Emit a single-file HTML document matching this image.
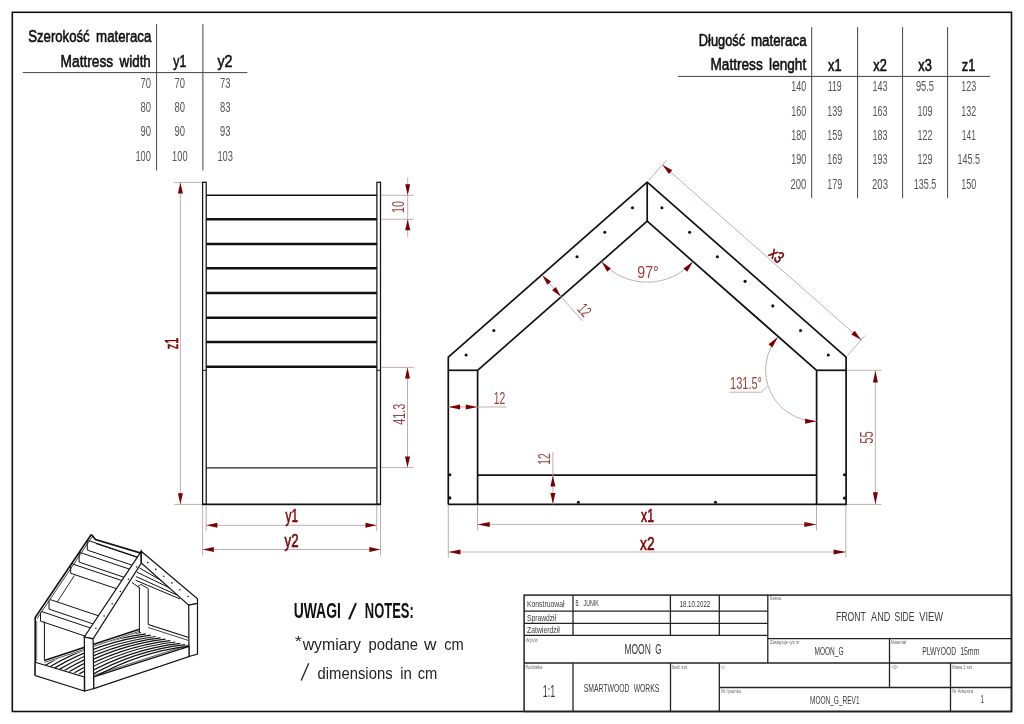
<!DOCTYPE html>
<html><head><meta charset="utf-8"><style>
html,body{margin:0;padding:0;background:#fff;}
svg{display:block;font-family:"Liberation Sans", sans-serif;will-change:transform;}
</style></head><body>
<svg width="1024" height="724" viewBox="0 0 1024 724">
<rect width="1024" height="724" fill="#fff"/>
<rect x="12.3" y="12.3" width="999.2" height="699.2" fill="none" stroke="#111" stroke-width="1.6"/>
<line x1="156.6" y1="24.2" x2="156.6" y2="170.5" stroke="#444" stroke-width="1"/>
<line x1="202.9" y1="24.2" x2="202.9" y2="170.5" stroke="#444" stroke-width="1"/>
<line x1="22.8" y1="72.6" x2="247.3" y2="72.6" stroke="#444" stroke-width="1"/>
<text x="28.21" y="42.3" font-size="16.86" font-weight="normal" fill="#111" stroke="#111" stroke-width="0.6" text-anchor="start" textLength="61.48" lengthAdjust="spacingAndGlyphs">Szerokość</text>
<text x="96.11" y="42.3" font-size="16.86" font-weight="normal" fill="#111" stroke="#111" stroke-width="0.6" text-anchor="start" textLength="55.18" lengthAdjust="spacingAndGlyphs">materaca</text>
<text x="60.61" y="66.9" font-size="16.86" font-weight="normal" fill="#111" stroke="#111" stroke-width="0.6" text-anchor="start" textLength="52.58" lengthAdjust="spacingAndGlyphs">Mattress</text>
<text x="119.61" y="66.9" font-size="16.86" font-weight="normal" fill="#111" stroke="#111" stroke-width="0.6" text-anchor="start" textLength="31.18" lengthAdjust="spacingAndGlyphs">width</text>
<text x="179.8" y="66.9" font-size="16.86" font-weight="normal" fill="#111" stroke="#111" stroke-width="0.6" text-anchor="middle" textLength="13" lengthAdjust="spacingAndGlyphs">y1</text>
<text x="225" y="66.9" font-size="16.86" font-weight="normal" fill="#111" stroke="#111" stroke-width="0.6" text-anchor="middle" textLength="15" lengthAdjust="spacingAndGlyphs">y2</text>
<text x="150.9" y="88" font-size="13.71" font-weight="normal" fill="#555" text-anchor="end" textLength="10.5" lengthAdjust="spacingAndGlyphs">70</text>
<text x="179.8" y="88" font-size="13.71" font-weight="normal" fill="#555" text-anchor="middle" textLength="10.5" lengthAdjust="spacingAndGlyphs">70</text>
<text x="225.2" y="88" font-size="13.71" font-weight="normal" fill="#555" text-anchor="middle" textLength="10.5" lengthAdjust="spacingAndGlyphs">73</text>
<text x="150.9" y="112.1" font-size="13.71" font-weight="normal" fill="#555" text-anchor="end" textLength="10.5" lengthAdjust="spacingAndGlyphs">80</text>
<text x="179.8" y="112.1" font-size="13.71" font-weight="normal" fill="#555" text-anchor="middle" textLength="10.5" lengthAdjust="spacingAndGlyphs">80</text>
<text x="225.2" y="112.1" font-size="13.71" font-weight="normal" fill="#555" text-anchor="middle" textLength="10.5" lengthAdjust="spacingAndGlyphs">83</text>
<text x="150.9" y="136.3" font-size="13.71" font-weight="normal" fill="#555" text-anchor="end" textLength="10.5" lengthAdjust="spacingAndGlyphs">90</text>
<text x="179.8" y="136.3" font-size="13.71" font-weight="normal" fill="#555" text-anchor="middle" textLength="10.5" lengthAdjust="spacingAndGlyphs">90</text>
<text x="225.2" y="136.3" font-size="13.71" font-weight="normal" fill="#555" text-anchor="middle" textLength="10.5" lengthAdjust="spacingAndGlyphs">93</text>
<text x="150.9" y="160.8" font-size="13.71" font-weight="normal" fill="#555" text-anchor="end" textLength="15.5" lengthAdjust="spacingAndGlyphs">100</text>
<text x="179.8" y="160.8" font-size="13.71" font-weight="normal" fill="#555" text-anchor="middle" textLength="15.5" lengthAdjust="spacingAndGlyphs">100</text>
<text x="225.2" y="160.8" font-size="13.71" font-weight="normal" fill="#555" text-anchor="middle" textLength="15.5" lengthAdjust="spacingAndGlyphs">103</text>
<line x1="811.7" y1="27.1" x2="811.7" y2="198" stroke="#444" stroke-width="1"/>
<line x1="857.6" y1="27.1" x2="857.6" y2="198" stroke="#444" stroke-width="1"/>
<line x1="902.6" y1="27.1" x2="902.6" y2="198" stroke="#444" stroke-width="1"/>
<line x1="947.6" y1="27.1" x2="947.6" y2="198" stroke="#444" stroke-width="1"/>
<line x1="678" y1="76.4" x2="990" y2="76.4" stroke="#444" stroke-width="1"/>
<text x="698.81" y="46.2" font-size="16.86" font-weight="normal" fill="#111" stroke="#111" stroke-width="0.6" text-anchor="start" textLength="46.28" lengthAdjust="spacingAndGlyphs">Długość</text>
<text x="750.91" y="46.2" font-size="16.86" font-weight="normal" fill="#111" stroke="#111" stroke-width="0.6" text-anchor="start" textLength="55.68" lengthAdjust="spacingAndGlyphs">materaca</text>
<text x="710.51" y="70.3" font-size="16.86" font-weight="normal" fill="#111" stroke="#111" stroke-width="0.6" text-anchor="start" textLength="52.18" lengthAdjust="spacingAndGlyphs">Mattress</text>
<text x="769.11" y="70.3" font-size="16.86" font-weight="normal" fill="#111" stroke="#111" stroke-width="0.6" text-anchor="start" textLength="37.08" lengthAdjust="spacingAndGlyphs">lenght</text>
<text x="834.8" y="70.6" font-size="16.86" font-weight="normal" fill="#111" stroke="#111" stroke-width="0.6" text-anchor="middle" textLength="13.5" lengthAdjust="spacingAndGlyphs">x1</text>
<text x="880" y="70.6" font-size="16.86" font-weight="normal" fill="#111" stroke="#111" stroke-width="0.6" text-anchor="middle" textLength="13.5" lengthAdjust="spacingAndGlyphs">x2</text>
<text x="925" y="70.6" font-size="16.86" font-weight="normal" fill="#111" stroke="#111" stroke-width="0.6" text-anchor="middle" textLength="13.5" lengthAdjust="spacingAndGlyphs">x3</text>
<text x="968.6" y="70.6" font-size="16.86" font-weight="normal" fill="#111" stroke="#111" stroke-width="0.6" text-anchor="middle" textLength="13.5" lengthAdjust="spacingAndGlyphs">z1</text>
<text x="806.3" y="91.3" font-size="13.71" font-weight="normal" fill="#555" text-anchor="end" textLength="15" lengthAdjust="spacingAndGlyphs">140</text>
<text x="834.7" y="91.3" font-size="13.71" font-weight="normal" fill="#555" text-anchor="middle" textLength="14.1" lengthAdjust="spacingAndGlyphs">119</text>
<text x="880" y="91.3" font-size="13.71" font-weight="normal" fill="#555" text-anchor="middle" textLength="15" lengthAdjust="spacingAndGlyphs">143</text>
<text x="925" y="91.3" font-size="13.71" font-weight="normal" fill="#555" text-anchor="middle" textLength="18.1" lengthAdjust="spacingAndGlyphs">95.5</text>
<text x="968.8" y="91.3" font-size="13.71" font-weight="normal" fill="#555" text-anchor="middle" textLength="15" lengthAdjust="spacingAndGlyphs">123</text>
<text x="806.3" y="115.6" font-size="13.71" font-weight="normal" fill="#555" text-anchor="end" textLength="15" lengthAdjust="spacingAndGlyphs">160</text>
<text x="834.7" y="115.6" font-size="13.71" font-weight="normal" fill="#555" text-anchor="middle" textLength="15" lengthAdjust="spacingAndGlyphs">139</text>
<text x="880" y="115.6" font-size="13.71" font-weight="normal" fill="#555" text-anchor="middle" textLength="15" lengthAdjust="spacingAndGlyphs">163</text>
<text x="925" y="115.6" font-size="13.71" font-weight="normal" fill="#555" text-anchor="middle" textLength="15" lengthAdjust="spacingAndGlyphs">109</text>
<text x="968.8" y="115.6" font-size="13.71" font-weight="normal" fill="#555" text-anchor="middle" textLength="15" lengthAdjust="spacingAndGlyphs">132</text>
<text x="806.3" y="140" font-size="13.71" font-weight="normal" fill="#555" text-anchor="end" textLength="15" lengthAdjust="spacingAndGlyphs">180</text>
<text x="834.7" y="140" font-size="13.71" font-weight="normal" fill="#555" text-anchor="middle" textLength="15" lengthAdjust="spacingAndGlyphs">159</text>
<text x="880" y="140" font-size="13.71" font-weight="normal" fill="#555" text-anchor="middle" textLength="15" lengthAdjust="spacingAndGlyphs">183</text>
<text x="925" y="140" font-size="13.71" font-weight="normal" fill="#555" text-anchor="middle" textLength="15" lengthAdjust="spacingAndGlyphs">122</text>
<text x="968.8" y="140" font-size="13.71" font-weight="normal" fill="#555" text-anchor="middle" textLength="14.1" lengthAdjust="spacingAndGlyphs">141</text>
<text x="806.3" y="164.3" font-size="13.71" font-weight="normal" fill="#555" text-anchor="end" textLength="15" lengthAdjust="spacingAndGlyphs">190</text>
<text x="834.7" y="164.3" font-size="13.71" font-weight="normal" fill="#555" text-anchor="middle" textLength="15" lengthAdjust="spacingAndGlyphs">169</text>
<text x="880" y="164.3" font-size="13.71" font-weight="normal" fill="#555" text-anchor="middle" textLength="15" lengthAdjust="spacingAndGlyphs">193</text>
<text x="925" y="164.3" font-size="13.71" font-weight="normal" fill="#555" text-anchor="middle" textLength="15" lengthAdjust="spacingAndGlyphs">129</text>
<text x="968.8" y="164.3" font-size="13.71" font-weight="normal" fill="#555" text-anchor="middle" textLength="22.5" lengthAdjust="spacingAndGlyphs">145.5</text>
<text x="806.3" y="188.6" font-size="13.71" font-weight="normal" fill="#555" text-anchor="end" textLength="15.9" lengthAdjust="spacingAndGlyphs">200</text>
<text x="834.7" y="188.6" font-size="13.71" font-weight="normal" fill="#555" text-anchor="middle" textLength="15" lengthAdjust="spacingAndGlyphs">179</text>
<text x="880" y="188.6" font-size="13.71" font-weight="normal" fill="#555" text-anchor="middle" textLength="15.9" lengthAdjust="spacingAndGlyphs">203</text>
<text x="925" y="188.6" font-size="13.71" font-weight="normal" fill="#555" text-anchor="middle" textLength="22.5" lengthAdjust="spacingAndGlyphs">135.5</text>
<text x="968.8" y="188.6" font-size="13.71" font-weight="normal" fill="#555" text-anchor="middle" textLength="15" lengthAdjust="spacingAndGlyphs">150</text>
<rect x="202.6" y="182.3" width="3.6" height="322.1" fill="none" stroke="#111" stroke-width="1.25"/>
<rect x="376.9" y="182.3" width="3.6" height="322.1" fill="none" stroke="#111" stroke-width="1.25"/>
<line x1="202.6" y1="370.3" x2="206.2" y2="370.3" stroke="#111" stroke-width="1"/>
<line x1="376.9" y1="370.3" x2="380.5" y2="370.3" stroke="#111" stroke-width="1"/>
<line x1="206.2" y1="195.3" x2="376.9" y2="195.3" stroke="#111" stroke-width="1.5"/>
<line x1="206.2" y1="219.3" x2="376.9" y2="219.3" stroke="#111" stroke-width="2.4"/>
<line x1="206.2" y1="244" x2="376.9" y2="244" stroke="#111" stroke-width="2.4"/>
<line x1="206.2" y1="268.3" x2="376.9" y2="268.3" stroke="#111" stroke-width="2.4"/>
<line x1="206.2" y1="293" x2="376.9" y2="293" stroke="#111" stroke-width="2.4"/>
<line x1="206.2" y1="317.8" x2="376.9" y2="317.8" stroke="#111" stroke-width="2.4"/>
<line x1="206.2" y1="342" x2="376.9" y2="342" stroke="#111" stroke-width="2.4"/>
<line x1="206.2" y1="366.7" x2="376.9" y2="366.7" stroke="#111" stroke-width="2.4"/>
<line x1="206.2" y1="467.9" x2="376.9" y2="467.9" stroke="#222" stroke-width="1.3"/>
<line x1="202.6" y1="504.4" x2="380.5" y2="504.4" stroke="#111" stroke-width="1.6"/>
<line x1="174" y1="182.4" x2="202" y2="182.4" stroke="#bca4a8" stroke-width="0.9"/>
<line x1="174" y1="504.4" x2="202" y2="504.4" stroke="#bca4a8" stroke-width="0.9"/>
<line x1="180.4" y1="182.4" x2="180.4" y2="504.4" stroke="#bca4a8" stroke-width="0.9"/>
<polygon points="180.4,182.6 182.9,193.6 177.9,193.6" fill="#7a0000"/>
<polygon points="180.4,504.2 177.9,493.2 182.9,493.2" fill="#7a0000"/>
<text x="0" y="6.1" transform="translate(171.6 343.5) rotate(-90)" font-size="17.43" font-weight="normal" fill="#7d0000" stroke="#7d0000" stroke-width="0.55" text-anchor="middle" textLength="11.5" lengthAdjust="spacingAndGlyphs">z1</text>
<line x1="381" y1="195.3" x2="413.8" y2="195.3" stroke="#bca4a8" stroke-width="0.9"/>
<line x1="381" y1="219.3" x2="413.8" y2="219.3" stroke="#bca4a8" stroke-width="0.9"/>
<line x1="407.7" y1="177.4" x2="407.7" y2="236.9" stroke="#bca4a8" stroke-width="0.9"/>
<polygon points="407.7,195.3 405.2,184.3 410.2,184.3" fill="#7a0000"/>
<polygon points="407.7,219.3 410.2,230.3 405.2,230.3" fill="#7a0000"/>
<text x="0" y="5.6" transform="translate(398.8 207) rotate(-90)" font-size="16" font-weight="normal" fill="#9a4242" text-anchor="middle" textLength="12" lengthAdjust="spacingAndGlyphs">10</text>
<line x1="381" y1="367.4" x2="413.7" y2="367.4" stroke="#bca4a8" stroke-width="0.9"/>
<line x1="381" y1="467.6" x2="413.7" y2="467.6" stroke="#bca4a8" stroke-width="0.9"/>
<line x1="407.5" y1="367.4" x2="407.5" y2="467.6" stroke="#bca4a8" stroke-width="0.9"/>
<polygon points="407.5,367.6 410,378.6 405,378.6" fill="#7a0000"/>
<polygon points="407.5,467.4 405,456.4 410,456.4" fill="#7a0000"/>
<text x="0" y="5.8" transform="translate(398.9 414.2) rotate(-90)" font-size="16.57" font-weight="normal" fill="#9a4242" text-anchor="middle" textLength="21" lengthAdjust="spacingAndGlyphs">41.3</text>
<line x1="206.2" y1="505" x2="206.2" y2="531" stroke="#bca4a8" stroke-width="0.9"/>
<line x1="376.7" y1="505" x2="376.7" y2="531" stroke="#bca4a8" stroke-width="0.9"/>
<line x1="206.2" y1="525.3" x2="376.7" y2="525.3" stroke="#bca4a8" stroke-width="0.9"/>
<polygon points="206.4,525.3 217.4,522.8 217.4,527.8" fill="#7a0000"/>
<polygon points="376.5,525.3 365.5,527.8 365.5,522.8" fill="#7a0000"/>
<text x="291.8" y="522.3" font-size="17.5" font-weight="normal" fill="#7d0000" stroke="#7d0000" stroke-width="0.55" text-anchor="middle" textLength="12.5" lengthAdjust="spacingAndGlyphs">y1</text>
<line x1="202.6" y1="505" x2="202.6" y2="555.5" stroke="#bca4a8" stroke-width="0.9"/>
<line x1="380.5" y1="505" x2="380.5" y2="555.5" stroke="#bca4a8" stroke-width="0.9"/>
<line x1="202.6" y1="549.5" x2="380.5" y2="549.5" stroke="#bca4a8" stroke-width="0.9"/>
<polygon points="202.8,549.5 213.8,547 213.8,552" fill="#7a0000"/>
<polygon points="380.3,549.5 369.3,552 369.3,547" fill="#7a0000"/>
<text x="291.5" y="546.6" font-size="17.5" font-weight="normal" fill="#7d0000" stroke="#7d0000" stroke-width="0.55" text-anchor="middle" textLength="14" lengthAdjust="spacingAndGlyphs">y2</text>
<polyline points="448.3,504.4 448.3,357.2 647.2,182.1 846.1,357.2 846.1,504.4 448.3,504.4" fill="none" stroke="#111" stroke-width="1.7" stroke-linejoin="round"/>
<polyline points="477.6,504.4 477.6,370.3 647.2,221.2 816.6,370.3 816.6,504.4" fill="none" stroke="#111" stroke-width="1.7" stroke-linejoin="round"/>
<line x1="448.3" y1="370.3" x2="477.6" y2="370.3" stroke="#111" stroke-width="1.7"/>
<line x1="816.6" y1="370.3" x2="846.1" y2="370.3" stroke="#111" stroke-width="1.7"/>
<line x1="647.2" y1="182.1" x2="647.2" y2="221.2" stroke="#111" stroke-width="1.7"/>
<line x1="477.6" y1="475.2" x2="816.6" y2="475.2" stroke="#111" stroke-width="1.7"/>
<circle cx="661.9" cy="207.7" r="1.55" fill="#111"/>
<circle cx="632.5" cy="207.7" r="1.55" fill="#111"/>
<circle cx="689.63" cy="232.25" r="1.55" fill="#111"/>
<circle cx="604.77" cy="232.25" r="1.55" fill="#111"/>
<circle cx="717.36" cy="256.8" r="1.55" fill="#111"/>
<circle cx="577.04" cy="256.8" r="1.55" fill="#111"/>
<circle cx="745.09" cy="281.35" r="1.55" fill="#111"/>
<circle cx="772.82" cy="305.9" r="1.55" fill="#111"/>
<circle cx="800.55" cy="330.45" r="1.55" fill="#111"/>
<circle cx="493.85" cy="330.45" r="1.55" fill="#111"/>
<circle cx="828.28" cy="355" r="1.55" fill="#111"/>
<circle cx="466.12" cy="355" r="1.55" fill="#111"/>
<circle cx="449.9" cy="474.7" r="1.55" fill="#111"/>
<circle cx="449.9" cy="497.9" r="1.55" fill="#111"/>
<circle cx="844.5" cy="474.8" r="1.55" fill="#111"/>
<circle cx="844.5" cy="498.1" r="1.55" fill="#111"/>
<circle cx="578.4" cy="502.3" r="1.55" fill="#111"/>
<circle cx="715.5" cy="502.3" r="1.55" fill="#111"/>
<line x1="448.3" y1="407" x2="506.4" y2="407" stroke="#bca4a8" stroke-width="0.9"/>
<polygon points="448.6,407 460.1,404.5 460.1,409.5" fill="#7a0000"/>
<polygon points="477.3,407 465.8,409.5 465.8,404.5" fill="#7a0000"/>
<text x="499.5" y="403.8" font-size="16.6" font-weight="normal" fill="#9a4242" text-anchor="middle" textLength="11.5" lengthAdjust="spacingAndGlyphs">12</text>
<line x1="552.9" y1="452.2" x2="552.9" y2="504.4" stroke="#bca4a8" stroke-width="0.9"/>
<polygon points="552.9,475.6 555.4,486.6 550.4,486.6" fill="#7a0000"/>
<polygon points="552.9,504.1 550.4,493.1 555.4,493.1" fill="#7a0000"/>
<text x="0" y="5.75" transform="translate(544 459.1) rotate(-90)" font-size="16.43" font-weight="normal" fill="#9a4242" text-anchor="middle" textLength="11.5" lengthAdjust="spacingAndGlyphs">12</text>
<line x1="542.3" y1="275.3" x2="582.56" y2="321.11" stroke="#bca4a8" stroke-width="0.9"/>
<polygon points="542.3,275.3 551.11,281.54 547.35,284.84" fill="#7a0000"/>
<polygon points="560.91,296.48 552.1,290.24 555.86,286.94" fill="#7a0000"/>
<text x="0" y="5.75" transform="translate(584.6 310) rotate(48.7)" font-size="16.43" font-weight="normal" fill="#9a4242" text-anchor="middle" textLength="11.5" lengthAdjust="spacingAndGlyphs">12</text>
<path d="M601.41 261.5 A61 61 0 0 0 692.99 261.5" fill="none" stroke="#bca4a8" stroke-width="0.9"/>
<polygon points="601.41,261.5 610.88,268.48 607.13,271.78" fill="#7a0000"/>
<polygon points="692.99,261.5 687.27,271.78 683.52,268.48" fill="#7a0000"/>
<text x="648" y="278.3" font-size="16.8" font-weight="normal" fill="#9a4242" text-anchor="middle" textLength="21.5" lengthAdjust="spacingAndGlyphs">97°</text>
<line x1="648.52" y1="180.6" x2="666.34" y2="160.32" stroke="#bca4a8" stroke-width="0.9"/>
<line x1="847.42" y1="355.7" x2="865.24" y2="335.42" stroke="#bca4a8" stroke-width="0.9"/>
<line x1="662.38" y1="164.83" x2="861.28" y2="339.93" stroke="#bca4a8" stroke-width="0.9"/>
<polygon points="662.38,164.83 672.29,170.22 668.98,173.97" fill="#7a0000"/>
<polygon points="861.28,339.93 851.37,334.53 854.68,330.78" fill="#7a0000"/>
<text x="0" y="5.75" transform="translate(776.8 255.2) rotate(41.35)" font-size="16.43" font-weight="normal" fill="#7d0000" stroke="#7d0000" stroke-width="0.55" text-anchor="middle" textLength="13.5" lengthAdjust="spacingAndGlyphs">x3</text>
<path d="M777.91 337.08 A51 51 0 0 0 816.6 421.3" fill="none" stroke="#bca4a8" stroke-width="0.9"/>
<polygon points="777.91,337.08 772.31,347.43 768.52,344.17" fill="#7a0000"/>
<polygon points="816.6,421.3 805.1,423.8 805.1,418.8" fill="#7a0000"/>
<polyline points="767.7,386 761.5,392.2 729,392.2" fill="none" stroke="#bca4a8" stroke-width="0.9" stroke-linejoin="round"/>
<text x="746" y="389.1" font-size="16.8" font-weight="normal" fill="#9a4242" text-anchor="middle" textLength="32" lengthAdjust="spacingAndGlyphs">131.5°</text>
<line x1="847" y1="370.3" x2="881.7" y2="370.3" stroke="#bca4a8" stroke-width="0.9"/>
<line x1="847" y1="504.4" x2="881.3" y2="504.4" stroke="#bca4a8" stroke-width="0.9"/>
<line x1="875.4" y1="370.3" x2="875.4" y2="504.4" stroke="#bca4a8" stroke-width="0.9"/>
<polygon points="875.4,370.5 877.9,382.5 872.9,382.5" fill="#7a0000"/>
<polygon points="875.4,504.2 872.9,492.2 877.9,492.2" fill="#7a0000"/>
<text x="0" y="6.15" transform="translate(866.4 437.5) rotate(-90)" font-size="17.57" font-weight="normal" fill="#9a4242" text-anchor="middle" textLength="12.5" lengthAdjust="spacingAndGlyphs">55</text>
<line x1="477.5" y1="505" x2="477.5" y2="530.2" stroke="#bca4a8" stroke-width="0.9"/>
<line x1="816.5" y1="505" x2="816.5" y2="530.2" stroke="#bca4a8" stroke-width="0.9"/>
<line x1="477.5" y1="524.4" x2="816.5" y2="524.4" stroke="#bca4a8" stroke-width="0.9"/>
<polygon points="477.7,524.4 489.7,521.9 489.7,526.9" fill="#7a0000"/>
<polygon points="816.3,524.4 804.3,526.9 804.3,521.9" fill="#7a0000"/>
<text x="647.5" y="521.6" font-size="17.5" font-weight="normal" fill="#7d0000" stroke="#7d0000" stroke-width="0.55" text-anchor="middle" textLength="13" lengthAdjust="spacingAndGlyphs">x1</text>
<line x1="448.3" y1="505" x2="448.3" y2="557.6" stroke="#bca4a8" stroke-width="0.9"/>
<line x1="845.8" y1="505" x2="845.8" y2="557.6" stroke="#bca4a8" stroke-width="0.9"/>
<line x1="448.3" y1="552" x2="845.8" y2="552" stroke="#bca4a8" stroke-width="0.9"/>
<polygon points="448.5,552 460.5,549.5 460.5,554.5" fill="#7a0000"/>
<polygon points="845.6,552 833.6,554.5 833.6,549.5" fill="#7a0000"/>
<text x="647.3" y="549.6" font-size="17.5" font-weight="normal" fill="#7d0000" stroke="#7d0000" stroke-width="0.55" text-anchor="middle" textLength="14.5" lengthAdjust="spacingAndGlyphs">x2</text>
<text x="293.64" y="617.9" font-size="21.8" font-weight="bold" fill="#111" text-anchor="start" textLength="47.23" lengthAdjust="spacingAndGlyphs">UWAGI</text>
<text x="364.84" y="617.9" font-size="21.8" font-weight="bold" fill="#111" text-anchor="start" textLength="48.93" lengthAdjust="spacingAndGlyphs">NOTES:</text>
<line x1="349" y1="619.3" x2="356" y2="603.2" stroke="#111" stroke-width="2"/>
<text x="294.76" y="646.3" font-size="15.5" font-weight="normal" fill="#222" text-anchor="start" textLength="7.18" lengthAdjust="spacingAndGlyphs">*</text>
<text x="302.65" y="649.5" font-size="15.8" font-weight="normal" fill="#222" text-anchor="start" textLength="58.21" lengthAdjust="spacingAndGlyphs">wymiary</text>
<text x="368.55" y="649.5" font-size="15.8" font-weight="normal" fill="#222" text-anchor="start" textLength="49.41" lengthAdjust="spacingAndGlyphs">podane</text>
<text x="423.95" y="649.5" font-size="15.8" font-weight="normal" fill="#222" text-anchor="start" textLength="12.51" lengthAdjust="spacingAndGlyphs">w</text>
<text x="444.15" y="649.5" font-size="15.8" font-weight="normal" fill="#222" text-anchor="start" textLength="19.51" lengthAdjust="spacingAndGlyphs">cm</text>
<line x1="301.2" y1="680.6" x2="308.7" y2="663.2" stroke="#222" stroke-width="1.3"/>
<text x="317.55" y="678.5" font-size="15.8" font-weight="normal" fill="#222" text-anchor="start" textLength="75.01" lengthAdjust="spacingAndGlyphs">dimensions</text>
<text x="400.15" y="678.5" font-size="15.8" font-weight="normal" fill="#222" text-anchor="start" textLength="11.71" lengthAdjust="spacingAndGlyphs">in</text>
<text x="417.75" y="678.5" font-size="15.8" font-weight="normal" fill="#222" text-anchor="start" textLength="19.61" lengthAdjust="spacingAndGlyphs">cm</text>
<rect x="524.1" y="595.1" width="487.4" height="116.4" fill="none" stroke="#222" stroke-width="1.5"/>
<line x1="524.1" y1="611.2" x2="767.8" y2="611.2" stroke="#222" stroke-width="1.3"/>
<line x1="524.1" y1="623.4" x2="767.8" y2="623.4" stroke="#222" stroke-width="1.3"/>
<line x1="524.1" y1="635.4" x2="767.8" y2="635.4" stroke="#222" stroke-width="1.3"/>
<line x1="573" y1="595.1" x2="573" y2="635.4" stroke="#222" stroke-width="1.3"/>
<line x1="670.4" y1="595.1" x2="670.4" y2="635.4" stroke="#222" stroke-width="1.3"/>
<line x1="719.3" y1="595.1" x2="719.3" y2="635.4" stroke="#222" stroke-width="1.3"/>
<line x1="767.8" y1="595.1" x2="767.8" y2="663" stroke="#222" stroke-width="1.3"/>
<line x1="767.8" y1="638.6" x2="1011.5" y2="638.6" stroke="#222" stroke-width="1.3"/>
<line x1="524.1" y1="663" x2="1011.5" y2="663" stroke="#222" stroke-width="1.3"/>
<line x1="889.5" y1="638.6" x2="889.5" y2="687.5" stroke="#222" stroke-width="1.3"/>
<line x1="573" y1="663" x2="573" y2="711.5" stroke="#222" stroke-width="1.3"/>
<line x1="670.5" y1="663" x2="670.5" y2="711.5" stroke="#222" stroke-width="1.3"/>
<line x1="719.3" y1="663" x2="719.3" y2="711.5" stroke="#222" stroke-width="1.3"/>
<line x1="719.3" y1="687.5" x2="1011.5" y2="687.5" stroke="#222" stroke-width="1.3"/>
<line x1="950.5" y1="663" x2="950.5" y2="711.5" stroke="#222" stroke-width="1.3"/>
<text x="527" y="606.5" font-size="9.16" font-weight="normal" fill="#3a3a3a" text-anchor="start" textLength="37.5" lengthAdjust="spacingAndGlyphs">Konstruował</text>
<text x="575.58" y="606.4" font-size="9.16" font-weight="normal" fill="#3a3a3a" text-anchor="start" textLength="4.24" lengthAdjust="spacingAndGlyphs">B.</text>
<text x="583.58" y="606.4" font-size="9.16" font-weight="normal" fill="#3a3a3a" text-anchor="start" textLength="15.34" lengthAdjust="spacingAndGlyphs">JUNIK</text>
<text x="679.58" y="606.5" font-size="9.16" font-weight="normal" fill="#3a3a3a" text-anchor="start" textLength="30.64" lengthAdjust="spacingAndGlyphs">18.10.2022</text>
<text x="527" y="620.5" font-size="9.16" font-weight="normal" fill="#3a3a3a" text-anchor="start" textLength="29" lengthAdjust="spacingAndGlyphs">Sprawdził</text>
<text x="527" y="632.5" font-size="9.16" font-weight="normal" fill="#3a3a3a" text-anchor="start" textLength="32.8" lengthAdjust="spacingAndGlyphs">Zatwierdził</text>
<text x="525.8" y="642" font-size="5.6" font-weight="normal" fill="#666" text-anchor="start" textLength="12" lengthAdjust="spacingAndGlyphs">Wyrób</text>
<text x="525.5" y="668.7" font-size="5.6" font-weight="normal" fill="#666" text-anchor="start" textLength="17" lengthAdjust="spacingAndGlyphs">Podziałka</text>
<text x="671.7" y="668.7" font-size="5.6" font-weight="normal" fill="#666" text-anchor="start" textLength="16.5" lengthAdjust="spacingAndGlyphs">Ilość szt.</text>
<text x="721" y="668.7" font-size="5.6" font-weight="normal" fill="#666" text-anchor="start" textLength="4" lengthAdjust="spacingAndGlyphs">&lt;1&gt;</text>
<text x="721" y="692.7" font-size="5.6" font-weight="normal" fill="#666" text-anchor="start" textLength="20" lengthAdjust="spacingAndGlyphs">Nr rysunku</text>
<text x="769.8" y="600.3" font-size="5.6" font-weight="normal" fill="#666" text-anchor="start" textLength="11.3" lengthAdjust="spacingAndGlyphs">Nazwa</text>
<text x="770.1" y="644.2" font-size="5.6" font-weight="normal" fill="#666" text-anchor="start" textLength="29.3" lengthAdjust="spacingAndGlyphs">Zastępuje rys nr</text>
<text x="891.1" y="644.2" font-size="5.6" font-weight="normal" fill="#666" text-anchor="start" textLength="15" lengthAdjust="spacingAndGlyphs">Materiał</text>
<text x="891.5" y="668.7" font-size="5.6" font-weight="normal" fill="#666" text-anchor="start" textLength="6.5" lengthAdjust="spacingAndGlyphs">&lt;2&gt;</text>
<text x="952.3" y="668.7" font-size="5.6" font-weight="normal" fill="#666" text-anchor="start" textLength="19.6" lengthAdjust="spacingAndGlyphs">Masa 1 szt</text>
<text x="952.3" y="692.7" font-size="5.6" font-weight="normal" fill="#666" text-anchor="start" textLength="20.7" lengthAdjust="spacingAndGlyphs">Nr Arkusza</text>
<text x="624.42" y="654.3" font-size="13.81" font-weight="normal" fill="#3a3a3a" text-anchor="start" textLength="26.37" lengthAdjust="spacingAndGlyphs">MOON</text>
<text x="655.22" y="654.3" font-size="13.81" font-weight="normal" fill="#3a3a3a" text-anchor="start" textLength="6.37" lengthAdjust="spacingAndGlyphs">G</text>
<text x="542.8" y="696.9" font-size="17.14" font-weight="normal" fill="#3a3a3a" text-anchor="start" textLength="12.5" lengthAdjust="spacingAndGlyphs">1:1</text>
<text x="583.83" y="691.6" font-size="10.61" font-weight="normal" fill="#3a3a3a" text-anchor="start" textLength="45.64" lengthAdjust="spacingAndGlyphs">SMARTWOOD</text>
<text x="633.63" y="691.6" font-size="10.61" font-weight="normal" fill="#3a3a3a" text-anchor="start" textLength="25.64" lengthAdjust="spacingAndGlyphs">WORKS</text>
<text x="810" y="703.8" font-size="11.19" font-weight="normal" fill="#3a3a3a" text-anchor="start" textLength="49.5" lengthAdjust="spacingAndGlyphs">MOON_G_REV1</text>
<text x="835.92" y="621.4" font-size="13.66" font-weight="normal" fill="#3a3a3a" text-anchor="start" textLength="29.76" lengthAdjust="spacingAndGlyphs">FRONT</text>
<text x="871.12" y="621.4" font-size="13.66" font-weight="normal" fill="#3a3a3a" text-anchor="start" textLength="19.16" lengthAdjust="spacingAndGlyphs">AND</text>
<text x="894.52" y="621.4" font-size="13.66" font-weight="normal" fill="#3a3a3a" text-anchor="start" textLength="19.76" lengthAdjust="spacingAndGlyphs">SIDE</text>
<text x="919.22" y="621.4" font-size="13.66" font-weight="normal" fill="#3a3a3a" text-anchor="start" textLength="23.76" lengthAdjust="spacingAndGlyphs">VIEW</text>
<text x="814.44" y="654.5" font-size="10.32" font-weight="normal" fill="#3a3a3a" text-anchor="start" textLength="29.02" lengthAdjust="spacingAndGlyphs">MOON_G</text>
<text x="922.14" y="654.5" font-size="10.32" font-weight="normal" fill="#3a3a3a" text-anchor="start" textLength="34.12" lengthAdjust="spacingAndGlyphs">PLWYOOD</text>
<text x="960.14" y="654.5" font-size="10.32" font-weight="normal" fill="#3a3a3a" text-anchor="start" textLength="19.32" lengthAdjust="spacingAndGlyphs">15mm</text>
<text x="980.5" y="703.1" font-size="10.71" font-weight="normal" fill="#3a3a3a" text-anchor="start" textLength="3.5" lengthAdjust="spacingAndGlyphs">1</text>
<polyline points="139.5,568 170.7,586" fill="none" stroke="#111" stroke-width="1" stroke-linejoin="miter" stroke-linecap="butt"/>
<polyline points="136.7,572 175.4,590.7" fill="none" stroke="#111" stroke-width="1" stroke-linejoin="miter" stroke-linecap="butt"/>
<polyline points="136.1,576.6 177.8,595.4" fill="none" stroke="#111" stroke-width="1" stroke-linejoin="miter" stroke-linecap="butt"/>
<polyline points="135.5,580.2 180.1,599" fill="none" stroke="#111" stroke-width="1" stroke-linejoin="miter" stroke-linecap="butt"/>
<polyline points="132,582.5 140.2,588.4" fill="none" stroke="#111" stroke-width="1" stroke-linejoin="miter" stroke-linecap="butt"/>
<polyline points="139.4,587.5 139.4,632.8" fill="none" stroke="#111" stroke-width="1" stroke-linejoin="miter" stroke-linecap="butt"/>
<polyline points="148.2,590 148.2,624.5" fill="none" stroke="#111" stroke-width="1" stroke-linejoin="miter" stroke-linecap="butt"/>
<polyline points="137.5,586.5 141,584.5 148.2,588.5 148.2,590" fill="none" stroke="#111" stroke-width="0.9" stroke-linejoin="miter" stroke-linecap="butt"/>
<polyline points="44.4,660.5 139.4,629.3" fill="none" stroke="#111" stroke-width="1.5" stroke-linejoin="miter" stroke-linecap="butt"/>
<polyline points="44.4,662.5 139.4,631.3" fill="none" stroke="#111" stroke-width="0.7" stroke-linejoin="miter" stroke-linecap="butt"/>
<polyline points="148.2,624.5 188.7,637.5" fill="none" stroke="#111" stroke-width="1.2" stroke-linejoin="miter" stroke-linecap="butt"/>
<polyline points="148.2,627.5 188.7,640.5" fill="none" stroke="#111" stroke-width="0.8" stroke-linejoin="miter" stroke-linecap="butt"/>
<clipPath id="slc"><polygon points="44.4,663.5 139.4,632.3 148.2,627.5 189,640.5 189,646.4 93.8,676.9 84.3,676.9 44.4,665"/></clipPath><g clip-path="url(#slc)">
<path d="M45 665.5 Q90 639 141 632.5" fill="none" stroke="#111" stroke-width="1.25"/>
<path d="M49.9 666.7 Q94.9 640.3 145.9 633.9" fill="none" stroke="#111" stroke-width="1.25"/>
<path d="M54.8 667.9 Q99.8 641.5 150.8 635.2" fill="none" stroke="#111" stroke-width="1.25"/>
<path d="M59.7 669.1 Q104.7 642.8 155.7 636.5" fill="none" stroke="#111" stroke-width="1.25"/>
<path d="M64.6 670.3 Q109.6 644.1 160.6 637.9" fill="none" stroke="#111" stroke-width="1.25"/>
<path d="M69.5 671.5 Q114.5 645.4 165.5 639.2" fill="none" stroke="#111" stroke-width="1.25"/>
<path d="M74.4 672.7 Q119.4 646.7 170.4 640.6" fill="none" stroke="#111" stroke-width="1.25"/>
<path d="M79.3 673.9 Q124.3 647.9 175.3 642" fill="none" stroke="#111" stroke-width="1.25"/>
<path d="M84.2 675.1 Q129.2 649.2 180.2 643.3" fill="none" stroke="#111" stroke-width="1.25"/>
<path d="M89.1 676.3 Q134.1 650.5 185.1 644.6" fill="none" stroke="#111" stroke-width="1.25"/>
<path d="M94 677.5 Q139 651.8 190 646" fill="none" stroke="#111" stroke-width="1.25"/>
</g>
<polygon points="88.6,540.6 138.5,557.4 137.2,566.9 87.3,550.1 87.3,542.1" fill="#fff" stroke="#111" stroke-width="1" stroke-linejoin="miter" stroke-linecap="butt"/>
<polygon points="80.4,552.6 130.3,569.4 129,578.9 79.1,562.1 79.1,554.1" fill="#fff" stroke="#111" stroke-width="1" stroke-linejoin="miter" stroke-linecap="butt"/>
<polygon points="72,563.8 121.9,580.6 120.6,590.1 70.7,573.3 70.7,565.3" fill="#fff" stroke="#111" stroke-width="1" stroke-linejoin="miter" stroke-linecap="butt"/>
<polygon points="50.3,599.6 100.2,616.4 98.9,625.9 49,609.1 49,601.1" fill="#fff" stroke="#111" stroke-width="1" stroke-linejoin="miter" stroke-linecap="butt"/>
<polygon points="41.8,611.6 91.7,628.4 90.4,637.9 40.5,621.1 40.5,613.1" fill="#fff" stroke="#111" stroke-width="1" stroke-linejoin="miter" stroke-linecap="butt"/>
<polyline points="95.8,543.5 137.5,557.5" fill="none" stroke="#111" stroke-width="1" stroke-linejoin="miter" stroke-linecap="butt"/>
<polyline points="74.3,575.6 57.3,601.9" fill="none" stroke="#111" stroke-width="0.9" stroke-linejoin="miter" stroke-linecap="butt"/>
<polyline points="91.3,534.5 35.2,617.5 35.2,675.5" fill="none" stroke="#111" stroke-width="1.6" stroke-linejoin="miter" stroke-linecap="butt"/>
<polyline points="92.9,535.7 36.9,618.8" fill="none" stroke="#111" stroke-width="0.8" stroke-linejoin="miter" stroke-linecap="butt"/>
<polyline points="44.4,621.5 44.4,660.5" fill="none" stroke="#111" stroke-width="1" stroke-linejoin="miter" stroke-linecap="butt"/>
<polyline points="36.7,621 36.7,661" fill="none" stroke="#111" stroke-width="0.6" stroke-linejoin="miter" stroke-linecap="butt"/>
<polyline points="91.3,534.5 95.5,539.5 140.9,553 141.2,551.3" fill="none" stroke="#111" stroke-width="1.8" stroke-linejoin="miter" stroke-linecap="butt"/>
<polygon points="35.2,662.2 84.3,676.9 84.3,691 35.2,675.5" fill="#fff" stroke="#111" stroke-width="1.1" stroke-linejoin="miter" stroke-linecap="butt"/>
<polygon points="141.2,551.3 84.3,637 93.1,638.8 141.3,563" fill="#fff" stroke="#111" stroke-width="1.2" stroke-linejoin="miter" stroke-linecap="butt"/>
<polygon points="141.2,551.3 197.5,598.8 197.5,603.5 188.7,605.2 141.3,563" fill="#fff" stroke="#111" stroke-width="1.2" stroke-linejoin="miter" stroke-linecap="butt"/>
<polyline points="141.2,551.3 141.3,563" fill="none" stroke="#111" stroke-width="1" stroke-linejoin="miter" stroke-linecap="butt"/>
<circle cx="136.6" cy="567" r="0.8" fill="#111"/>
<circle cx="147.7" cy="562.6" r="0.8" fill="#111"/>
<circle cx="128.4" cy="579.3" r="0.8" fill="#111"/>
<circle cx="155.8" cy="569.4" r="0.8" fill="#111"/>
<circle cx="120.3" cy="591.5" r="0.8" fill="#111"/>
<circle cx="163.8" cy="576.2" r="0.8" fill="#111"/>
<circle cx="112.2" cy="603.8" r="0.8" fill="#111"/>
<circle cx="171.9" cy="582.9" r="0.8" fill="#111"/>
<circle cx="104.1" cy="616" r="0.8" fill="#111"/>
<circle cx="179.9" cy="589.7" r="0.8" fill="#111"/>
<circle cx="95.9" cy="628.3" r="0.8" fill="#111"/>
<circle cx="188" cy="596.5" r="0.8" fill="#111"/>
<polygon points="84.3,637 93.1,638.8 93.8,688.6 84.7,691" fill="#fff" stroke="#111" stroke-width="1.2" stroke-linejoin="miter" stroke-linecap="butt"/>
<polygon points="188.7,605.2 197.5,603.5 197.5,654 189,656.5" fill="#fff" stroke="#111" stroke-width="1.2" stroke-linejoin="miter" stroke-linecap="butt"/>
<polygon points="93.8,676.9 189,646.4 189,656.5 93.8,688.6" fill="#fff" stroke="#111" stroke-width="1.2" stroke-linejoin="miter" stroke-linecap="butt"/>
<polyline points="93.8,675.3 189,644.8" fill="none" stroke="#111" stroke-width="0.7" stroke-linejoin="miter" stroke-linecap="butt"/>
</svg>
</body></html>
